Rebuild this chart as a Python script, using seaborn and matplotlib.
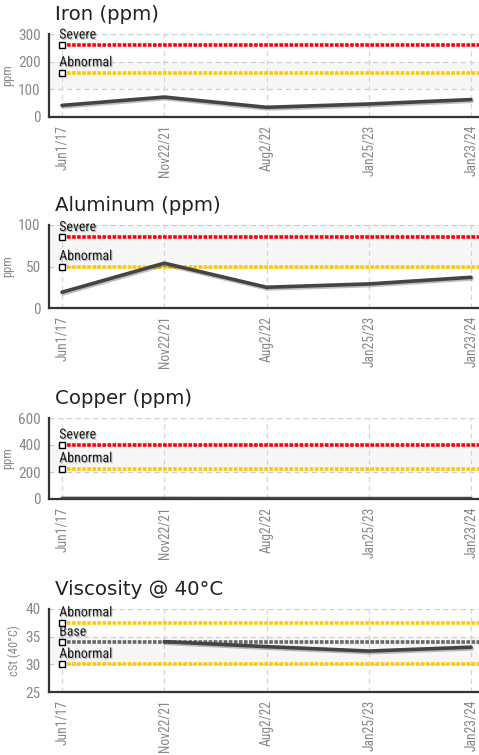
import numpy as np
import pandas as pd
import matplotlib
matplotlib.use("Agg")
import matplotlib.pyplot as plt
import matplotlib.patheffects as pe
from matplotlib import font_manager
import seaborn as sns

sns.set_style("white")
plt.rcParams['font.family'] = ['DejaVu Sans']

names = sorted({f.name for f in font_manager.fontManager.ttflist})
NARROW = "Roboto"
for cand in ["Roboto Condensed", "Liberation Sans Narrow", "Open Sans Condensed", "Roboto"]:
    if cand in names:
        NARROW = cand
        break

dates = ["Jun1/17", "Nov22/21", "Aug2/22", "Jan25/23", "Jan23/24"]

iron = [42, 72, 35, 47, 63]
aluminum = [19, 54, 25, 29, 37]
copper = [4, 4, 3, 3, 3]
viscosity = [np.nan, 34.1, 33.2, 32.4, 33.1]

iron_limits = [("Severe", 260, "#ff0000"), ("Abnormal", 160, "#ffc800")]
aluminum_limits = [("Severe", 85, "#ff0000"), ("Abnormal", 50, "#ffc800")]
copper_limits = [("Severe", 400, "#ff0000"), ("Abnormal", 225, "#ffc800")]
visc_limits = [("Abnormal", 37.5, "#ffc800"), ("Base", 34, "#666666"), ("Abnormal", 30, "#ffc800")]

panels = [
    dict(title="Iron (ppm)", values=iron, limits=iron_limits, ylabel="ppm",
         yticks=[0, 100, 200, 300], top=34, bottom=117),
    dict(title="Aluminum (ppm)", values=aluminum, limits=aluminum_limits, ylabel="ppm",
         yticks=[0, 50, 100], top=225, bottom=308),
    dict(title="Copper (ppm)", values=copper, limits=copper_limits, ylabel="ppm",
         yticks=[0, 200, 400, 600], top=418, bottom=499),
    dict(title="Viscosity @ 40°C", values=viscosity, limits=visc_limits, ylabel="cSt (40°C)",
         yticks=[25, 30, 35, 40], top=609, bottom=692),
]

W, H = 479, 755
fig = plt.figure(figsize=(W / 100, H / 100), dpi=100)

left_px, right_px = 49, 479
XMIN, XMAX = -0.127, 4.078
label_color = "#888888"

for p in panels:
    ax = fig.add_axes([left_px / W, 1 - p["bottom"] / H,
                       (right_px - left_px) / W, (p["bottom"] - p["top"]) / H])
    yt = p["yticks"]
    ax.set_xlim(XMIN, XMAX)
    ax.set_ylim(yt[0], yt[-1])
    for i in range(len(yt) - 1):
        if i % 2 == 1:
            ax.axhspan(yt[i], yt[i + 1], color="#f7f7f7", zorder=0, lw=0)
    for y in yt[1:]:
        ax.axhline(y, color="#cccccc", lw=0.9, ls=(0, (4, 3)), zorder=1)
    for i in range(len(dates)):
        ax.axvline(i, color="#d5d5d5", lw=0.9, ls=(0, (4, 3)), zorder=1)

    for name, val, col in p["limits"]:
        ax.plot([0, XMAX], [val, val], color=col, lw=2.6,
                ls=(0, (1, 0.4)), dash_capstyle="butt", zorder=3)
        ax.plot([0], [val], marker="s", ms=4.5, mfc="white", mec="black", mew=1.0,
                zorder=5, clip_on=False)
        ax.annotate(name, xy=(0, val), xytext=(-2, 2.5), textcoords="offset points",
                    ha="left", va="bottom", fontsize=10,
                    color="#1a1a1a", family=NARROW, zorder=6,
                    path_effects=[pe.withSimplePatchShadow(offset=(0.8, -0.8),
                                                           shadow_rgbFace="#999999", alpha=0.6)])

    df = pd.DataFrame({"x": np.arange(len(dates)), "y": p["values"]}).dropna()
    sns.lineplot(data=df, x="x", y="y", ax=ax, color="#444444", lw=2.6, zorder=4,
                 path_effects=[pe.SimpleLineShadow(offset=(0.8, -1.2), alpha=0.25),
                               pe.Normal()])

    ax.set_xticks(range(len(dates)))
    ax.set_xticklabels(dates, rotation=90, fontsize=9.8,
                       color=label_color, family=NARROW)
    ax.set_yticks(yt)
    ax.set_yticklabels([str(v) for v in yt], fontsize=11,
                       color=label_color, family=NARROW)
    ax.set_xlabel("")
    ax.set_ylabel(p["ylabel"], fontsize=9, color=label_color,
                  labelpad=3, family=NARROW)
    ax.tick_params(axis="y", length=4, width=1.2, color="#333333", pad=2, direction="out")
    ax.tick_params(axis="x", length=5, width=1.0, color="#333333", pad=3, direction="inout")
    for s in ["top", "right"]:
        ax.spines[s].set_visible(False)
    for s in ["left", "bottom"]:
        ax.spines[s].set_color("#333333")
        ax.spines[s].set_linewidth(1.6)
    ax.set_title(p["title"], loc="left", fontsize=14.2, color="#222222", pad=10, x=0.014)

fig.savefig("out.png", dpi=100)
